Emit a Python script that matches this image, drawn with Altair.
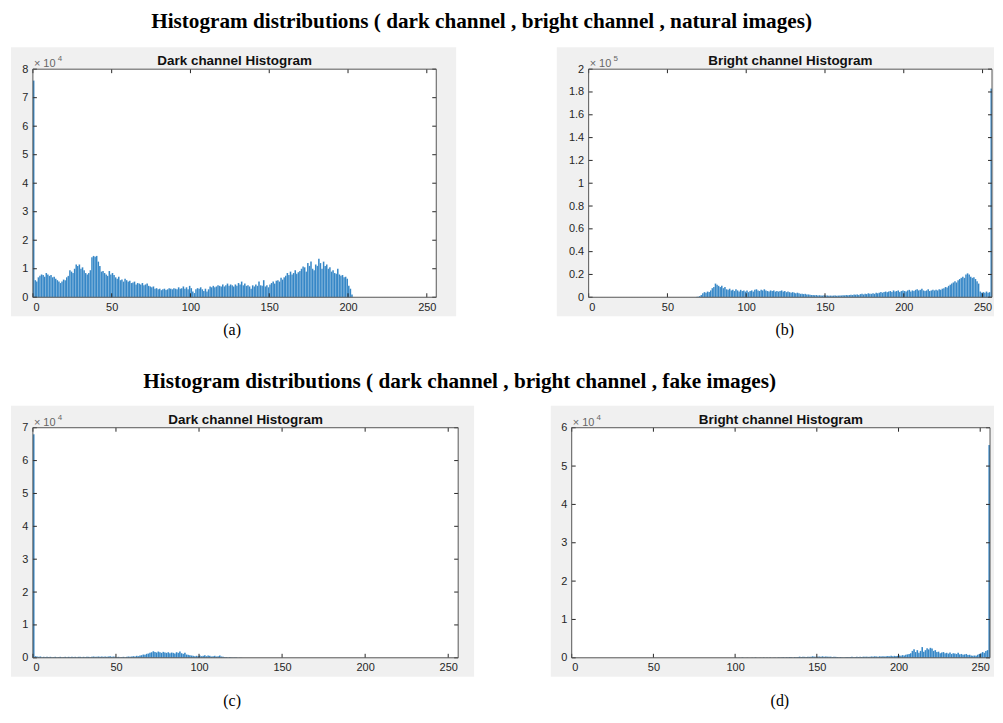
import altair as alt
import pandas as pd

BINS = list(range(256))
X_TICKS = [0, 50, 100, 150, 200, 250]

# Dark channel, natural images (x 1e4)
dark_natural = [
    7.6, 0.6, 0.55, 0.7, 0.75, 0.8, 0.78, 0.72, 0.85, 0.8,
    0.75, 0.78, 0.7, 0.72, 0.65, 0.6, 0.55, 0.5, 0.55, 0.62,
    0.6, 0.7, 0.75, 0.95, 0.9, 0.85, 1.0, 1.15, 1.1, 1.15,
    1.0, 1.05, 0.95, 0.85, 0.8, 0.85, 0.95, 1.4, 1.45, 1.42,
    1.45, 1.25, 1.1, 0.9, 0.92, 0.85, 0.8, 0.75, 0.92, 0.8,
    0.85, 0.78, 0.7, 0.65, 0.72, 0.6, 0.62, 0.55, 0.65, 0.6,
    0.55, 0.58, 0.5, 0.52, 0.55, 0.45, 0.5, 0.48, 0.45, 0.5,
    0.42, 0.45, 0.48, 0.4, 0.38, 0.35, 0.38, 0.3, 0.32, 0.28,
    0.3, 0.25, 0.28, 0.3, 0.25, 0.28, 0.32, 0.3, 0.28, 0.32,
    0.3, 0.28, 0.35, 0.3, 0.32, 0.38, 0.3, 0.35, 0.28, 0.4,
    0.32, 0.2, 0.15, 0.28, 0.32, 0.3, 0.35, 0.28, 0.22, 0.3,
    0.2, 0.28, 0.38, 0.35, 0.4, 0.35, 0.38, 0.42, 0.4, 0.38,
    0.45, 0.38, 0.42, 0.48, 0.4, 0.45, 0.42, 0.38, 0.45, 0.4,
    0.5, 0.45, 0.55, 0.42, 0.48, 0.4, 0.42, 0.38, 0.3, 0.42,
    0.38, 0.45, 0.4, 0.55, 0.42, 0.4, 0.6, 0.38, 0.42, 0.35,
    0.45, 0.5, 0.55, 0.48, 0.58, 0.6, 0.55, 0.68, 0.62, 0.7,
    0.75, 0.85, 0.78, 0.9, 0.8, 0.85, 0.95, 0.82, 0.88, 0.92,
    1.0, 1.08, 1.05, 0.9, 1.2, 1.1, 1.25, 1.0, 0.95, 1.15,
    1.1, 1.35, 1.2, 1.0, 1.25, 1.1, 1.15, 1.0, 1.05, 0.9,
    0.95, 0.85, 0.82, 1.0, 0.8, 0.75, 0.78, 0.7, 0.72, 0.65,
    0.4, 0.3, 0.1,
] + [0.0] * 53

# Bright channel, natural images (x 1e5)
bright_natural = [0.0] * 68 + [
    0.003, 0.005,
    0.01, 0.02, 0.035, 0.045, 0.04, 0.05, 0.045, 0.06, 0.08, 0.09,
    0.12, 0.11, 0.1, 0.09, 0.1, 0.08, 0.09, 0.07, 0.065, 0.075,
    0.06, 0.065, 0.055, 0.07, 0.06, 0.05, 0.065, 0.055, 0.06, 0.05,
    0.06, 0.045, 0.055, 0.06, 0.05, 0.065, 0.07, 0.06, 0.055, 0.065,
    0.06, 0.07, 0.06, 0.055, 0.05, 0.06, 0.055, 0.06, 0.05, 0.055,
    0.05, 0.055, 0.06, 0.05, 0.055, 0.045, 0.05, 0.045, 0.04, 0.045,
    0.04, 0.035, 0.04, 0.035, 0.03, 0.03, 0.028, 0.03, 0.025, 0.025,
    0.022, 0.02, 0.02, 0.018, 0.02, 0.015, 0.018, 0.016, 0.015, 0.018,
    0.015, 0.016, 0.014, 0.015, 0.013, 0.015, 0.016, 0.014, 0.015, 0.016,
    0.016, 0.018, 0.017, 0.02, 0.018, 0.02, 0.022, 0.02, 0.025, 0.022,
    0.025, 0.02, 0.028, 0.03, 0.025, 0.03, 0.028, 0.035, 0.03, 0.03,
    0.035, 0.03, 0.04, 0.035, 0.04, 0.045, 0.04, 0.045, 0.05, 0.045,
    0.05, 0.055, 0.045, 0.06, 0.05, 0.055, 0.06, 0.045, 0.055, 0.06,
    0.055, 0.05, 0.06, 0.065, 0.05, 0.06, 0.055, 0.065, 0.07, 0.06,
    0.065, 0.075, 0.06, 0.055, 0.06, 0.07, 0.055, 0.06, 0.065, 0.06,
    0.065, 0.06, 0.07, 0.065, 0.075, 0.08, 0.09, 0.085, 0.1, 0.11,
    0.12, 0.13, 0.14, 0.13, 0.15, 0.16, 0.17, 0.18, 0.17, 0.2,
    0.21, 0.2, 0.18, 0.17, 0.175, 0.16, 0.14, 0.12, 0.05, 0.04,
    0.045, 0.04, 0.05, 0.04, 0.045, 1.83,
]

# Dark channel, fake images (x 1e4)
dark_fake = [
    6.8,
    0.05, 0.04, 0.03, 0.04, 0.02, 0.03, 0.02, 0.03, 0.02,
    0.03, 0.02, 0.02, 0.03, 0.02, 0.02, 0.03, 0.02, 0.02, 0.03,
    0.02, 0.03, 0.02, 0.03, 0.02, 0.03, 0.02, 0.03, 0.03, 0.02,
    0.03, 0.02, 0.03, 0.03, 0.02, 0.03, 0.04, 0.03, 0.03, 0.04,
    0.03, 0.04, 0.03, 0.04, 0.03, 0.04, 0.05, 0.03, 0.04, 0.03,
    0.02, 0.03, 0.02, 0.02, 0.03, 0.02, 0.03, 0.04, 0.03, 0.04,
    0.05, 0.04, 0.06, 0.05, 0.07, 0.08, 0.1, 0.09, 0.12, 0.13,
    0.15, 0.17, 0.2, 0.18, 0.16, 0.19, 0.17, 0.15, 0.18, 0.16,
    0.15, 0.17, 0.14, 0.16, 0.15, 0.13, 0.17, 0.15, 0.19, 0.14,
    0.12, 0.15, 0.1, 0.09, 0.08, 0.07, 0.06, 0.05, 0.06, 0.05,
    0.07, 0.05, 0.06, 0.08, 0.05, 0.07, 0.06, 0.04, 0.05, 0.06,
    0.04, 0.05, 0.07, 0.04, 0.03, 0.02, 0.02, 0.01, 0.02, 0.01,
    0.01, 0.01, 0.01, 0.005, 0.005, 0.005,
] + [0.0] * 130

# Bright channel, fake images (x 1e4)
bright_fake = [0.0] * 100 + [
    0.01, 0.0, 0.005, 0.0, 0.01, 0.0, 0.0, 0.005, 0.0, 0.0,
    0.005, 0.0, 0.01, 0.0, 0.0, 0.005, 0.0, 0.01, 0.0, 0.005,
    0.0, 0.01, 0.0, 0.005, 0.01, 0.0, 0.01, 0.005, 0.01, 0.015,
    0.01, 0.015, 0.01, 0.02, 0.015, 0.01, 0.02, 0.015, 0.02, 0.03,
    0.02, 0.03, 0.025, 0.02, 0.03, 0.025, 0.03, 0.04, 0.03, 0.025,
    0.03, 0.035, 0.03, 0.04, 0.03, 0.035, 0.03, 0.025, 0.03, 0.02,
    0.03, 0.025, 0.02, 0.015, 0.02, 0.015, 0.01, 0.015, 0.02, 0.015,
    0.02, 0.025, 0.015, 0.02, 0.025, 0.02, 0.025, 0.02, 0.03, 0.025,
    0.03, 0.025, 0.03, 0.035, 0.03, 0.04, 0.035, 0.03, 0.04, 0.035,
    0.04, 0.035, 0.04, 0.045, 0.04, 0.05, 0.04, 0.05, 0.045, 0.05,
    0.06, 0.05, 0.07, 0.06, 0.08, 0.09, 0.1, 0.12, 0.18, 0.22,
    0.15, 0.2, 0.13, 0.18, 0.28, 0.16, 0.2, 0.25, 0.22, 0.26,
    0.24, 0.18, 0.2, 0.15, 0.16, 0.12, 0.14, 0.15, 0.12, 0.13,
    0.11, 0.14, 0.1, 0.12, 0.11, 0.1, 0.13, 0.09, 0.1, 0.08,
    0.09, 0.1, 0.07, 0.08, 0.06, 0.05, 0.06, 0.05, 0.08, 0.1,
    0.12, 0.15, 0.13, 0.18, 0.2, 5.55,
]

TICKS_A = [0, 1, 2, 3, 4, 5, 6, 7, 8]
TICKS_B = [0, 0.2, 0.4, 0.6, 0.8, 1, 1.2, 1.4, 1.6, 1.8, 2]
TICKS_C = [0, 1, 2, 3, 4, 5, 6, 7]
TICKS_D = [0, 1, 2, 3, 4, 5, 6]

ROW_TITLE_1 = "Histogram distributions ( dark channel , bright channel , natural images)"
ROW_TITLE_2 = "Histogram distributions ( dark channel , bright channel , fake images)"

FIG_BG = "#f0f0f0"
BAR = "#2a80c4"
AX = "#262626"
SANS = "Liberation Sans"
SERIF = "Liberation Serif"


def panel(vals, title, ymax, yticks, expo, letter, W, H, gl, gr, gb, lab_x, lab_y):
    df = pd.DataFrame({"bin": BINS, "count": vals})
    one = pd.DataFrame({"k": [0]})
    xs = alt.Scale(domain=[0, 256], nice=False, zero=False)
    ys = alt.Scale(domain=[0, ymax], nice=False)
    xaxis = alt.Axis(
        values=X_TICKS, title="", format="d", labelFont=SANS, labelFontSize=11,
        labelColor=AX, labelPadding=4, ticks=False, domain=False, grid=False, zindex=1)
    yaxis = alt.Axis(
        values=yticks, title="", format="~g", labelFont=SANS, labelFontSize=11,
        labelColor=AX, labelPadding=5, ticks=False, domain=False, grid=False, zindex=1)

    gray = alt.Chart(one).mark_rect(color=FIG_BG).encode(
        x=alt.value(gl), x2=alt.value(W + gr), y=alt.value(-22), y2=alt.value(H + gb))
    white = alt.Chart(one).mark_rect(color="white").encode(
        x=alt.value(0), x2=alt.value(W), y=alt.value(0), y2=alt.value(H))
    bars = alt.Chart(df).transform_calculate(hi="datum.bin + 1").mark_rect(
        color=BAR, stroke="white", strokeWidth=0.2, strokeOpacity=0.7
    ).encode(
        x=alt.X("bin:Q", scale=xs, axis=xaxis),
        x2="hi:Q",
        y=alt.Y("count:Q", scale=ys, axis=yaxis),
        y2=alt.datum(0),
    )
    xt = pd.DataFrame({"bin": X_TICKS})
    yt = pd.DataFrame({"count": yticks})
    xtick_b = alt.Chart(xt).mark_rule(color=AX, strokeWidth=1).encode(
        x=alt.X("bin:Q", scale=xs, axis=xaxis), y=alt.value(H), y2=alt.value(H - 4))
    xtick_t = alt.Chart(xt).mark_rule(color=AX, strokeWidth=1).encode(
        x=alt.X("bin:Q", scale=xs, axis=xaxis), y=alt.value(0), y2=alt.value(4))
    ytick_l = alt.Chart(yt).mark_rule(color=AX, strokeWidth=1).encode(
        y=alt.Y("count:Q", scale=ys, axis=yaxis), x=alt.value(0), x2=alt.value(4))
    ytick_r = alt.Chart(yt).mark_rule(color=AX, strokeWidth=1).encode(
        y=alt.Y("count:Q", scale=ys, axis=yaxis), x=alt.value(W), x2=alt.value(W - 4))
    border = alt.Chart(one).mark_rect(fillOpacity=0, stroke="#555555", strokeWidth=1).encode(
        x=alt.value(0), x2=alt.value(W), y=alt.value(0), y2=alt.value(H))
    exp_base = alt.Chart(one).mark_text(
        align="left", baseline="alphabetic", font=SANS, fontSize=11, color="#666666"
    ).encode(x=alt.value(1), y=alt.value(-2), text=alt.value("\u00d7 10"))
    exp_pow = alt.Chart(one).mark_text(
        align="left", baseline="alphabetic", font=SANS, fontSize=8, color="#666666"
    ).encode(x=alt.value(25), y=alt.value(-8), text=alt.value(expo))
    ttl = alt.Chart(one).mark_text(
        align="center", baseline="alphabetic", font=SANS, fontSize=13.5, fontWeight="bold", color="#111111"
    ).encode(x=alt.value(W / 2), y=alt.value(-4), text=alt.value(title))
    lab = alt.Chart(one).mark_text(
        align="center", baseline="middle", font=SERIF, fontSize=16, color="black"
    ).encode(x=alt.value(lab_x), y=alt.value(lab_y), text=alt.value(letter))

    return alt.layer(
        gray, white, bars, xtick_b, xtick_t, ytick_l, ytick_r, border,
        exp_base, exp_pow, ttl, lab
    ).properties(width=W, height=H)


pa = panel(dark_natural, "Dark channel Histogram", 8, TICKS_A, "4", "(a)", 405, 229, -22, 20, 19, 200, 33 + 229)
pb = panel(bright_natural, "Bright channel Histogram", 2, TICKS_B, "5", "(b)", 405, 229, -32, 2, 19, 197, 33 + 229)
pc = panel(dark_fake, "Dark channel Histogram", 7, TICKS_C, "4", "(c)", 427, 231, -22, 16, 19, 200, 43 + 231)
pd_ = panel(bright_fake, "Bright channel Histogram", 6, TICKS_D, "4", "(d)", 420, 231, -21, 4, 19, 209, 43 + 231)

row_title = dict(font=SERIF, fontSize=21.3, fontWeight="bold", color="black", anchor="middle")

row1 = alt.hconcat(pa, pb, spacing=99).properties(
    title=alt.TitleParams(ROW_TITLE_1, offset=15, dx=-21, **row_title))
row2 = alt.hconcat(pc, pd_, spacing=75).properties(
    title=alt.TitleParams(ROW_TITLE_2, offset=13, dx=-43, **row_title))

chart = alt.vconcat(row1, row2, spacing=32).properties(
    padding={"left": 2, "top": 1, "right": 0, "bottom": 0}
).configure_view(stroke="transparent").configure(background="white")

chart.save("out.html", embed_options={"renderer": "svg", "actions": False})
